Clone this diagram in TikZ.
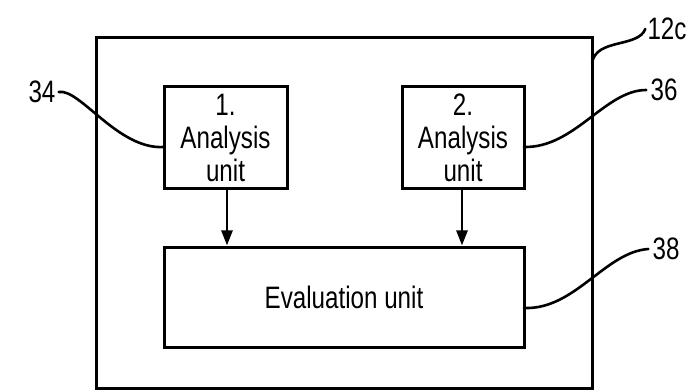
\documentclass[tikz,border=0pt]{standalone}
\usepackage{fontspec}
\setmainfont{Liberation Sans}[FakeStretch=0.78]
\usetikzlibrary{arrows.meta}
\begin{document}
\begin{tikzpicture}[x=1pt,y=-1pt,
  box/.style={draw,line width=3pt,inner sep=0pt,font=\fontsize{31}{33}\selectfont,align=center},
  lbl/.style={font=\fontsize{31}{33}\selectfont,inner sep=0pt},
  lead/.style={line width=2.6pt,line cap=round},
  arr/.style={line width=2.6pt,-{Triangle[length=15pt,width=11pt]}}]
\useasboundingbox (0,0) rectangle (688,390);
\node[box,minimum width=496pt,minimum height=350pt] (outer) at (344,213) {};
\node[box,minimum width=123pt,minimum height=102pt] (b1) at (225.5,138) {1.\\Analysis\\unit};
\node[box,minimum width=122pt,minimum height=102pt] (b2) at (463,138) {2.\\Analysis\\unit};
\node[box,minimum width=360pt,minimum height=100pt] (ev) at (344,297) {Evaluation unit};
\draw[arr] (b1.south -| 227,0) -- (ev.north -| 227,0);
\draw[arr] (b2.south -| 462,0) -- (ev.north -| 462,0);
\node[lbl] (l34) at (42,92) {34};
\node[lbl] (l36) at (664,90) {36};
\node[lbl] (l38) at (666,249) {38};
\node[lbl] (l12) at (667,29) {12c};
\coordinate (e34) at (164,147);
\coordinate (e36) at (524,147);
\coordinate (e38) at (524,308);
\coordinate (e12) at (592,63);
\draw[lead] (l34.east)++(3,0) .. controls (80,88) and (118,150) .. (e34);
\draw[lead] (e36) .. controls (575,148) and (605,90) .. ([xshift=-4pt]l36.west);
\draw[lead] (e38) .. controls (575,310) and (605,252) .. ([xshift=-4pt]l38.west);
\draw[lead] (e12) .. controls (596,38) and (638,48) .. ([xshift=-2pt]l12.west);
\end{tikzpicture}
\end{document}
